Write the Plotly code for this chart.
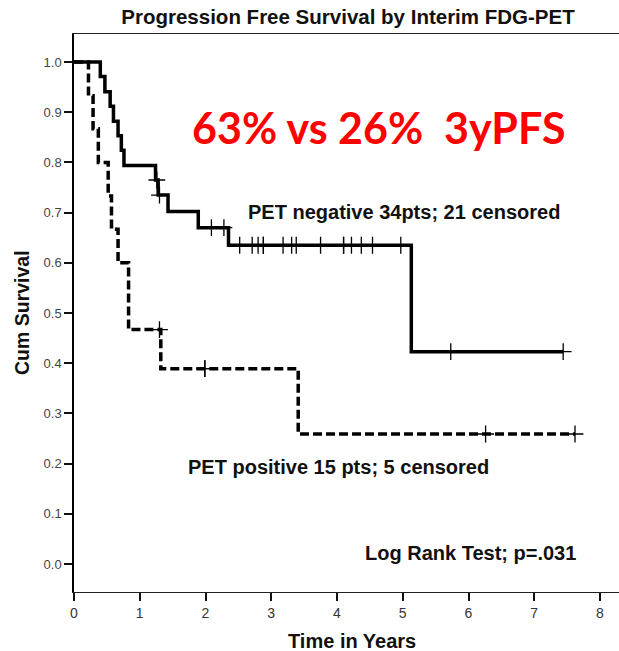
import plotly.graph_objects as go

# PET negative (34 pts; 21 censored) - step times and survival after each step
neg_step_t = [0.40, 0.47, 0.55, 0.60, 0.67, 0.72, 0.76, 1.24, 1.28, 1.43, 1.89, 2.35, 5.13]
neg_surv = [0.971, 0.941, 0.912, 0.882, 0.853, 0.824, 0.794, 0.765, 0.735, 0.702, 0.670, 0.635, 0.423]
neg_censor_t = [1.26, 1.30, 2.09, 2.28, 2.52, 2.71, 2.80, 2.88, 2.88, 3.18, 3.31, 3.38,
                3.75, 4.10, 4.10, 4.22, 4.37, 4.54, 4.97, 5.73, 7.44]

# PET positive (15 pts; 5 censored)
pos_step_t = [0.22, 0.29, 0.37, 0.52, 0.57, 0.67, 0.83, 1.32, 3.41]
pos_surv = [0.933, 0.867, 0.800, 0.733, 0.667, 0.600, 0.467, 0.389, 0.259]
pos_censor_t = [1.30, 1.99, 1.99, 6.26, 7.62]

x_ticks = [0, 1, 2, 3, 4, 5, 6, 7, 8]
y_ticks = [0.0, 0.1, 0.2, 0.3, 0.4, 0.5, 0.6, 0.7, 0.8, 0.9, 1.0]

FONT = "Liberation Sans, Arial, sans-serif"


def step_xy(ts, ss, end_t):
    xs = [0.0] + list(ts) + [end_t]
    ys = [1.0] + list(ss) + [ss[-1]]
    return xs, ys


def surv_at(ts, ss, c):
    val = 1.0
    for t, s in zip(ts, ss):
        if t <= c:
            val = s
    return val


fig = go.Figure()

for ts, ss, cs, dash in [
    (neg_step_t, neg_surv, neg_censor_t, "solid"),
    (pos_step_t, pos_surv, pos_censor_t, "9px,4px"),
]:
    xs, ys = step_xy(ts, ss, max(cs))
    fig.add_trace(go.Scatter(
        x=xs, y=ys, mode="lines", line=dict(color="black", width=3.5, dash=dash, shape="hv"),
        showlegend=False, hoverinfo="skip"))
    fig.add_trace(go.Scatter(
        x=cs, y=[surv_at(ts, ss, c) for c in cs], mode="markers",
        marker=dict(symbol="cross-thin", size=12, line=dict(color="black", width=1.3)),
        showlegend=False, hoverinfo="skip"))

fig.update_layout(
    width=619, height=651,
    margin=dict(l=74, r=0, t=34, b=59),
    paper_bgcolor="white", plot_bgcolor="white",
    title=dict(text="<b>Progression Free Survival by Interim FDG-PET</b>",
               x=348 / 619, xanchor="center", y=1 - 17 / 651, yanchor="middle",
               font=dict(family=FONT, size=20.5, color="#111")),
    xaxis=dict(range=[0, 545 / 65.75], tickvals=x_ticks, ticktext=[str(v) for v in x_ticks],
               showgrid=False, zeroline=False, showline=True, linecolor="#222", linewidth=1.3,
               mirror=True, ticks="outside", ticklen=8, tickwidth=2, tickcolor="#111",
               tickfont=dict(family=FONT, size=14, color="#333")),
    yaxis=dict(range=[-0.0558, 1.0558], tickvals=y_ticks, ticktext=[f"{v:.1f}" for v in y_ticks],
               showgrid=False, zeroline=False, showline=True, linecolor="black", linewidth=1.5,
               ticks="outside", ticklen=8, tickwidth=1.5, tickcolor="#111",
               tickfont=dict(family=FONT, size=13, color="#444")),
)

annots = [
    dict(x=4.64, y=0.869, xref="x", yref="y", text="<b>63% vs 26%  3yPFS</b>",
         font=dict(family="Lato, Liberation Sans, sans-serif", size=43, color="#ff0000"),
         xanchor="center", yanchor="middle"),
    dict(x=2.616, y=0.701, xref="x", yref="y", text="<b>PET negative 34pts; 21 censored</b>",
         font=dict(family=FONT, size=20, color="#111"), xanchor="left", yanchor="middle"),
    dict(x=1.703, y=0.193, xref="x", yref="y", text="<b>PET positive 15 pts; 5 censored</b>",
         font=dict(family=FONT, size=20, color="#111"), xanchor="left", yanchor="middle"),
    dict(x=4.395, y=0.022, xref="x", yref="y", text="<b>Log Rank Test; p=.031</b>",
         font=dict(family=FONT, size=20, color="#111"), xanchor="left", yanchor="middle"),
    dict(x=(22 - 74) / 545, y=0.5, xref="paper", yref="paper", text="<b>Cum Survival</b>",
         textangle=-90, font=dict(family=FONT, size=19.5, color="#111"),
         xanchor="center", yanchor="middle"),
    dict(x=(352 - 74) / 545, y=(592 - 641) / 558, xref="paper", yref="paper",
         text="<b>Time in Years</b>", font=dict(family=FONT, size=20, color="#111"),
         xanchor="center", yanchor="middle"),
]
for a in annots:
    a["showarrow"] = False
    fig.add_annotation(**a)

fig.write_html("out.html")
